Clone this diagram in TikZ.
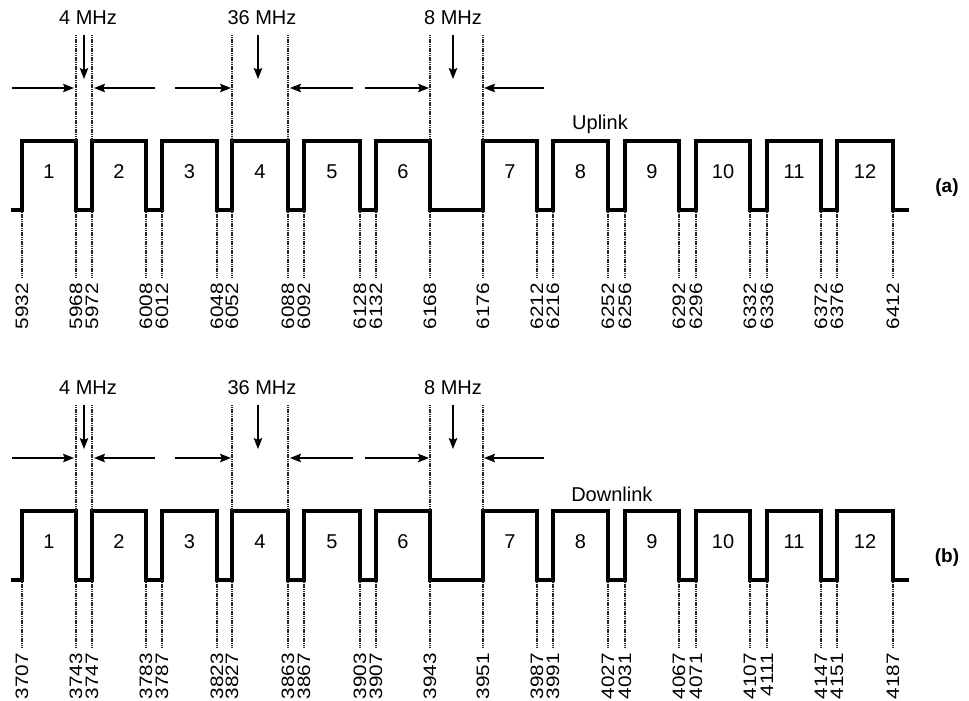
\documentclass[tikz,border=0pt]{standalone}
\usepackage{fontspec}
\setmainfont{Liberation Sans}
\usetikzlibrary{arrows.meta,calc}
\tikzset{
  wave/.style={line width=3.3pt, line join=miter},
  guide/.style={line width=1.5pt, dash pattern=on 1.2pt off 0.6pt, black!85},
  arr/.style={-{Stealth[length=11pt,width=8.5pt,inset=2pt]}, line width=1.8pt},
  lbl/.style={font=\fontsize{20}{22}\selectfont, inner sep=0pt},
  freq/.style={font=\fontsize{18}{20}\selectfont, inner sep=0pt, rotate=90, anchor=east},
  tag/.style={font=\bfseries\fontsize{19}{21}\selectfont, inner sep=0pt}
}
\begin{document}
\begin{tikzpicture}[x=1pt,y=-1pt]
\useasboundingbox (0,0) rectangle (969,701);
\foreach \dy/\link/\tagtxt/\freqs in {
  0/Uplink/(a)/{5932,5968,5972,6008,6012,6048,6052,6088,6092,6128,6132,6168,6176,6212,6216,6252,6256,6292,6296,6332,6336,6372,6376,6412},
  370/Downlink/(b)/{3707,3743,3747,3783,3787,3823,3827,3863,3867,3903,3907,3943,3951,3987,3991,4027,4031,4067,4071,4107,4111,4147,4151,4187}}{
\begin{scope}[yshift=-\dy pt]
  % edges
  \foreach \xe [count=\i] in {22,76,92,146,162,217,232,288,304,360,376,430,483,537,553,608,625,679,696,750,767,821,837,893}{
    \coordinate (hi\i) at (\xe,141);
    \coordinate (lo\i) at (\xe,210);
    \coordinate (bt\i) at (\xe,277);
  }
  \coordinate (ws) at (11,210);
  \coordinate (we) at (909,210);
  % waveform
  \draw[wave] (ws) -- (lo1) -- (hi1) -- (hi2) -- (lo2) -- (lo3) -- (hi3) -- (hi4) -- (lo4)
    -- (lo5) -- (hi5) -- (hi6) -- (lo6) -- (lo7) -- (hi7) -- (hi8) -- (lo8)
    -- (lo9) -- (hi9) -- (hi10) -- (lo10) -- (lo11) -- (hi11) -- (hi12) -- (lo12)
    -- (lo13) -- (hi13) -- (hi14) -- (lo14) -- (lo15) -- (hi15) -- (hi16) -- (lo16)
    -- (lo17) -- (hi17) -- (hi18) -- (lo18) -- (lo19) -- (hi19) -- (hi20) -- (lo20)
    -- (lo21) -- (hi21) -- (hi22) -- (lo22) -- (lo23) -- (hi23) -- (hi24) -- (lo24) -- (we);
  % channel numbers
  \foreach \c in {1,...,12}{
    \pgfmathtruncatemacro{\a}{2*\c-1}
    \pgfmathtruncatemacro{\b}{2*\c}
    \node[lbl] (ch\c) at ($(hi\a)!0.5!(hi\b)+(0,31)$) {\c};
  }
  % lower guides and frequency labels
  \foreach \f [count=\i] in \freqs {
    \draw[guide] (lo\i) -- (bt\i);
    \node[freq] (f\i) at ($(bt\i)+(0,6)$) {\scalebox{1.15}[1]{\f}};
  }
  % upper guides
  \foreach \i in {2,3,7,8,12,13}{
    \coordinate (tp\i) at ($(hi\i)+(0,-106)$);
    \draw[guide] (tp\i) -- (hi\i);
  }
  % bandwidth labels and down arrows
  \node[lbl] (m4) at (88,18) {4 MHz};
  \node[lbl] (m36) at (262,18) {36 MHz};
  \node[lbl] (m8) at (453,18) {8 MHz};
  \coordinate (d4a) at (84,35);  \coordinate (d4b) at (84,79);
  \coordinate (d36a) at (258,35); \coordinate (d36b) at (258,79);
  \coordinate (d8a) at (453,35);  \coordinate (d8b) at (453,79);
  \draw[arr] (d4a) -- (d4b);
  \draw[arr] (d36a) -- (d36b);
  \draw[arr] (d8a) -- (d8b);
  % horizontal arrows
  \coordinate (h1a) at (12,88);  \coordinate (h1b) at (74,88);
  \coordinate (h2a) at (155,88); \coordinate (h2b) at (94,88);
  \coordinate (h3a) at (175,88); \coordinate (h3b) at (231,88);
  \coordinate (h4a) at (353,88); \coordinate (h4b) at (290,88);
  \coordinate (h5a) at (365,88); \coordinate (h5b) at (429,88);
  \coordinate (h6a) at (544,88); \coordinate (h6b) at (484,88);
  \foreach \k in {1,...,6}{ \draw[arr] (h\k a) -- (h\k b); }
  % link name and tag
  \node[lbl] (link) at (600+0.032*\dy,124) {\link};
  \node[tag] (tg) at (947,188) {\tagtxt};
\end{scope}
}
\end{tikzpicture}
\end{document}
